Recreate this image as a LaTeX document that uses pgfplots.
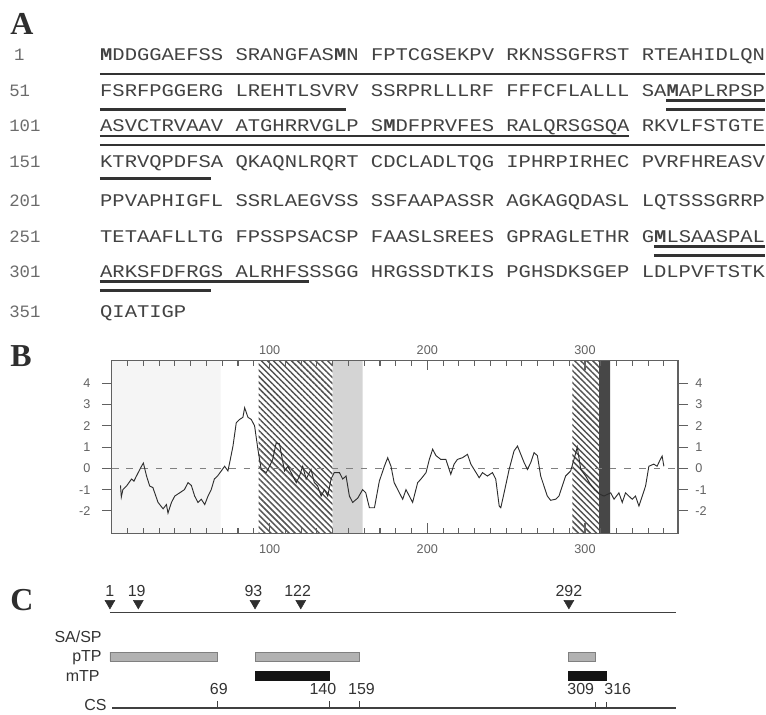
\documentclass[border=0pt]{standalone}
\usepackage{pgfplots}
\pgfplotsset{compat=1.18}
\usetikzlibrary{patterns.meta}
\usepackage{fontspec}
\setmainfont{Liberation Serif}
\newfontfamily\seqfont[FakeStretch=1.15]{Liberation Mono}
\newfontfamily\numfont{Liberation Mono}
\newfontfamily\sansf{Liberation Sans}
\newcommand{\M}{\textbf{M}}
\begin{document}
\begin{tikzpicture}
\begin{scope}[x=0.75pt,y=-0.75pt]
\path (0,0) rectangle (766,715);
% panel letters
\tikzset{panel/.style={anchor=base west, inner sep=0, font=\fontsize{24}{24}\selectfont\bfseries, text=black!82}}
\node[panel] at (10,35) {A};
\node[panel] at (10,367) {B};
\node[panel] at (10,611) {C};
% sequence rows
\tikzset{seq/.style={anchor=base west, inner sep=0, font=\seqfont\fontsize{13.4}{13.4}\selectfont, text=black!74},
         num/.style={anchor=base west, inner sep=0, font=\numfont\fontsize{13}{13}\selectfont, text=black!58}}
\node[num] at (14,61) {1};
\node[seq] at (100,61) {\M DDGGAEFSS SRANGFAS\M N FPTCGSEKPV RKNSSGFRST RTEAHIDLQN};
\node[num] at (9,96.5) {51};
\node[seq] at (100,96.5) {FSRFPGGERG LREHTLSVRV SSRPRLLLRF FFFCFLALLL SA\M APLRPSP};
\node[num] at (9,132) {101};
\node[seq] at (100,132) {ASVCTRVAAV ATGHRRVGLP S\M DFPRVFES RALQRSGSQA RKVLFSTGTE};
\node[num] at (9,167.5) {151};
\node[seq] at (100,167.5) {KTRVQPDFSA QKAQNLRQRT CDCLADLTQG IPHRPIRHEC PVRFHREASV};
\node[num] at (9,207) {201};
\node[seq] at (100,207) {PPVAPHIGFL SSRLAEGVSS SSFAAPASSR AGKAGQDASL LQTSSSGRRP};
\node[num] at (9,243) {251};
\node[seq] at (100,243) {TETAAFLLTG FPSSPSACSP FAASLSREES GPRAGLETHR G\M LSAASPAL};
\node[num] at (9,278) {301};
\node[seq] at (100,278) {ARKSFDFRGS ALRHFSSSGG HRGSSDTKIS PGHSDKSGEP LDLPVFTSTK};
\node[num] at (9,318) {351};
\node[seq] at (100,318) {QIATIGP};
% underlines (pTP lower, mTP upper)
\tikzset{ul/.style={draw=black!80, line width=1.9pt}}
\draw[ul] (100,74) -- (765.8,74);
\draw[ul] (100,109.5) -- (346.6,109.5);
\draw[ul] (667.2,100.5) -- (765.8,100.5);
\draw[ul] (667.2,109.5) -- (765.8,109.5);
\draw[ul] (100,136) -- (630.2,136);
\draw[ul] (100,145) -- (765.8,145);
\draw[ul] (100,178.5) -- (211,178.5);
\draw[ul] (654.9,247) -- (765.8,247);
\draw[ul] (654.9,256) -- (765.8,256);
\draw[ul] (100,282) -- (309.6,282);
\draw[ul] (100,291) -- (211,291);
% panel C left labels
\tikzset{clab/.style={inner sep=0, font=\sansf\fontsize{12}{12}\selectfont, text=black!80}}
\node[clab, anchor=base east] at (102,643) {SA/SP};
\node[clab, anchor=base east] at (102,662.5) {pTP};
\node[clab, anchor=base east] at (100,682) {mTP};
\node[clab, anchor=base east] at (107,711.5) {CS};
\end{scope}

% ---------- panel B ----------
\begin{axis}[
  at={(84pt,-400.5pt)}, anchor=south west, scale only axis,
  width=425.25pt, height=129.75pt,
  xmin=0, xmax=359, ymin=-3.05, ymax=5.07,
  axis on top,
  axis line style={draw=black!62, line width=0.9pt},
  xtick={100,200,300}, xticklabels={100,200,300},
  minor xtick={10,20,...,350},
  xtick pos=both, xtick align=inside, xticklabel pos=lower,
  ytick={-2,-1,0,1,2,3,4}, yticklabels={-2,-1,0,1,2,3,4},
  ytick pos=both, ytick align=outside, yticklabel pos=left,
  major tick length=7.5pt, minor tick length=3.75pt,
  tick style={draw=black!62, line width=0.8pt},
  tick label style={font=\sansf\fontsize{9.5}{10}\selectfont, text=black!62},
  xticklabel style={yshift=-5pt},
  yticklabel style={xshift=-5pt},
]
\addplot[fill=black!4, draw=none] coordinates {(0,-3.05) (69,-3.05) (69,5.07) (0,5.07) (0,-3.05)};
\addplot[draw=none, pattern={Lines[angle=-45,distance=3.2pt,line width=1.1pt]}, pattern color=black!68] coordinates {(93,-3.05) (140,-3.05) (140,5.07) (93,5.07) (93,-3.05)};
\addplot[fill=black!17, draw=none] coordinates {(140,-3.05) (159,-3.05) (159,5.07) (140,5.07) (140,-3.05)};
\addplot[draw=none, pattern={Lines[angle=-45,distance=3.2pt,line width=1.1pt]}, pattern color=black!68] coordinates {(292,-3.05) (309,-3.05) (309,5.07) (292,5.07) (292,-3.05)};
\addplot[fill=black!72, draw=none] coordinates {(309,-3.05) (316,-3.05) (316,5.07) (309,5.07) (309,-3.05)};
\addplot[black!50, line width=0.7pt, dash pattern=on 5pt off 6pt] coordinates {(0,0) (359,0)};
\addplot[black!82, line width=0.7pt] coordinates {
(5.5,-0.8) (6,-1.35) (7,-1.0) (9.3,-0.83) (12.5,-0.5) (14,-0.6) (15.6,-0.36) (18.8,0.1) (20,0.25)
(22,-0.36) (24,-0.83) (26,-0.9) (29.3,-1.6) (32.5,-1.9) (34.6,-1.7) (35.6,-2.1) (37.8,-1.6)
(39.9,-1.3) (43,-1.15) (46,-1.0) (48.3,-0.67) (50.4,-0.8) (52.5,-1.3) (54.6,-1.6) (56.7,-1.45)
(58.9,-1.7) (61,-1.3) (63,-1.0) (65,-0.5) (67,-0.36) (69.4,-0.12) (71.5,0.1) (73.6,-0.12)
(74.7,0.27) (76.8,1.05) (78.9,2.15) (81,2.3) (83.1,2.4) (84.2,2.85) (86.3,2.4) (88.4,2.3)
(90.5,2.0) (92.6,0.9) (94.7,-0.05) (97.9,-0.2) (100,0.1) (102,0.42) (104.2,1.2) (106.3,1.15)
(108.4,0.3) (109.5,-0.12) (111.6,0.1) (113.7,-0.2) (116.9,-0.67) (119,-0.36) (121,0.1)
(123.2,-0.5) (126.3,-0.05) (128.4,-0.67) (130.5,-0.83) (132.7,-1.3) (134.8,-1.0) (136.9,-1.3)
(139,-0.5) (141,-0.2) (144.3,-0.2) (146.4,-0.5) (148.5,-0.36) (150.6,-1.3) (152.7,-1.6)
(155.9,-1.4) (159,-1.0) (161,-1.15) (163.3,-1.85) (166.5,-1.85) (169.6,-0.6) (172.8,0.1)
(174.9,0.5) (177,0.1) (179,-0.67) (182.3,-1.15) (184.4,-1.45) (186.5,-1.0) (188.6,-1.3)
(190.7,-1.6) (193.9,-0.67) (196,-0.5) (199.2,-0.2) (201.3,0.42) (203.4,0.9) (205.5,0.6)
(208.6,0.42) (211.8,0.42) (214.9,-0.28) (217,0.2) (219.1,0.42) (222.3,0.5) (225.5,0.66)
(227.6,0.2) (229.7,-0.05) (232.9,-0.44) (235,-0.2) (238.1,-0.36) (241.3,-0.2) (243.4,-0.5)
(245.6,-1.77) (246.6,-1.85) (248.7,-1.15) (251.9,-0.05) (255,0.82) (257.2,1.05) (259.3,0.66)
(261.4,0.27) (263.5,-0.05) (265.6,0.27) (267.7,0.74) (269.8,0.6) (271.9,-0.36) (274,-0.83)
(276.1,-1.3) (278.2,-1.5) (281.4,-1.45) (283.5,-1.3) (285.6,-0.83) (287.7,-0.36) (290.9,-0.12)
(293,0.42) (295.1,1.0) (297.3,-0.05) (300.4,-0.36) (303,-0.7) (306,-1.0) (309,-1.2) (312,-1.3)
(316.3,-1.15) (318.4,-1.45) (321.5,-1.15) (323.6,-1.6) (325.7,-1.15) (327.8,-1.3) (329.9,-1.45)
(332,-1.3) (334.2,-1.77) (336.3,-1.3) (338.4,-0.83) (340.5,0.1) (343.6,0.2) (345.7,0.1)
(347.3,0.35) (348.9,0.58) (350,0.1)
};
\end{axis}
% top and right labels of panel B
\begin{axis}[
  at={(84pt,-400.5pt)}, anchor=south west, scale only axis,
  width=425.25pt, height=129.75pt,
  xmin=0, xmax=359, ymin=-3.05, ymax=5.07,
  axis line style={draw=none}, tick style={draw=none},
  xtick={100,200,300}, xticklabels={100,200,300}, xticklabel pos=upper,
  ytick={-2,-1,0,1,2,3,4}, yticklabels={-2,-1,0,1,2,3,4}, yticklabel pos=right,
  tick label style={font=\sansf\fontsize{9.5}{10}\selectfont, text=black!62},
  xticklabel style={yshift=1pt},
  yticklabel style={xshift=9.5pt},
]
\end{axis}

% ---------- panel C ----------
\begin{axis}[
  at={(81.375pt,-536.25pt)}, anchor=south west, scale only axis,
  width=425.25pt, height=97.5pt,
  xmin=0, xmax=359, ymin=-715, ymax=-585,
  hide axis, clip=false,
]
\addplot[black!75, line width=0.9pt] coordinates {(1,-613) (360,-613)};
\addplot[black!75, line width=0.9pt] coordinates {(2.5,-709) (360,-709)};
\addplot[black!75, line width=0.7pt] coordinates {(69,-702) (69,-709)};
\addplot[black!75, line width=0.7pt] coordinates {(140,-702) (140,-709)};
\addplot[black!75, line width=0.7pt] coordinates {(159,-702) (159,-709)};
\addplot[black!75, line width=0.7pt] coordinates {(309,-703) (309,-709)};
\addplot[black!75, line width=0.7pt] coordinates {(316,-703) (316,-709)};
% pTP bars
\addplot[fill=black!30, draw=black!50, line width=0.6pt] coordinates {(1,-653) (69,-653) (69,-662) (1,-662) (1,-653)};
\addplot[fill=black!30, draw=black!50, line width=0.6pt] coordinates {(93,-653) (159,-653) (159,-662) (93,-662) (93,-653)};
\addplot[fill=black!30, draw=black!50, line width=0.6pt] coordinates {(292,-653) (309,-653) (309,-662) (292,-662) (292,-653)};
% mTP bars
\addplot[fill=black!92, draw=black!92, line width=0.6pt] coordinates {(93,-672) (140,-672) (140,-681) (93,-681) (93,-672)};
\addplot[fill=black!92, draw=black!92, line width=0.6pt] coordinates {(292,-672) (316,-672) (316,-681) (292,-681) (292,-672)};
% start codons
\addplot[only marks, mark=triangle*, mark size=4.3pt, mark options={rotate=180, fill=black!82, draw=black!82}] coordinates {(1,-604) (19,-604) (93,-604) (122,-604) (292,-604)};
\tikzset{cnum/.style={anchor=base, inner sep=0, font=\sansf\fontsize{12}{12}\selectfont, text=black!80}}
\node[cnum] at (axis cs:1,-597) {1};
\node[cnum] at (axis cs:18,-597) {19};
\node[cnum] at (axis cs:92,-597) {93};
\node[cnum] at (axis cs:120,-597) {122};
\node[cnum] at (axis cs:292,-597) {292};
\node[cnum] at (axis cs:70,-695.5) {69};
\node[cnum] at (axis cs:136,-695.5) {140};
\node[cnum] at (axis cs:160.5,-695.5) {159};
\node[cnum] at (axis cs:299.5,-695.5) {309};
\node[cnum] at (axis cs:323,-695.5) {316};
\end{axis}
\end{tikzpicture}
\end{document}
